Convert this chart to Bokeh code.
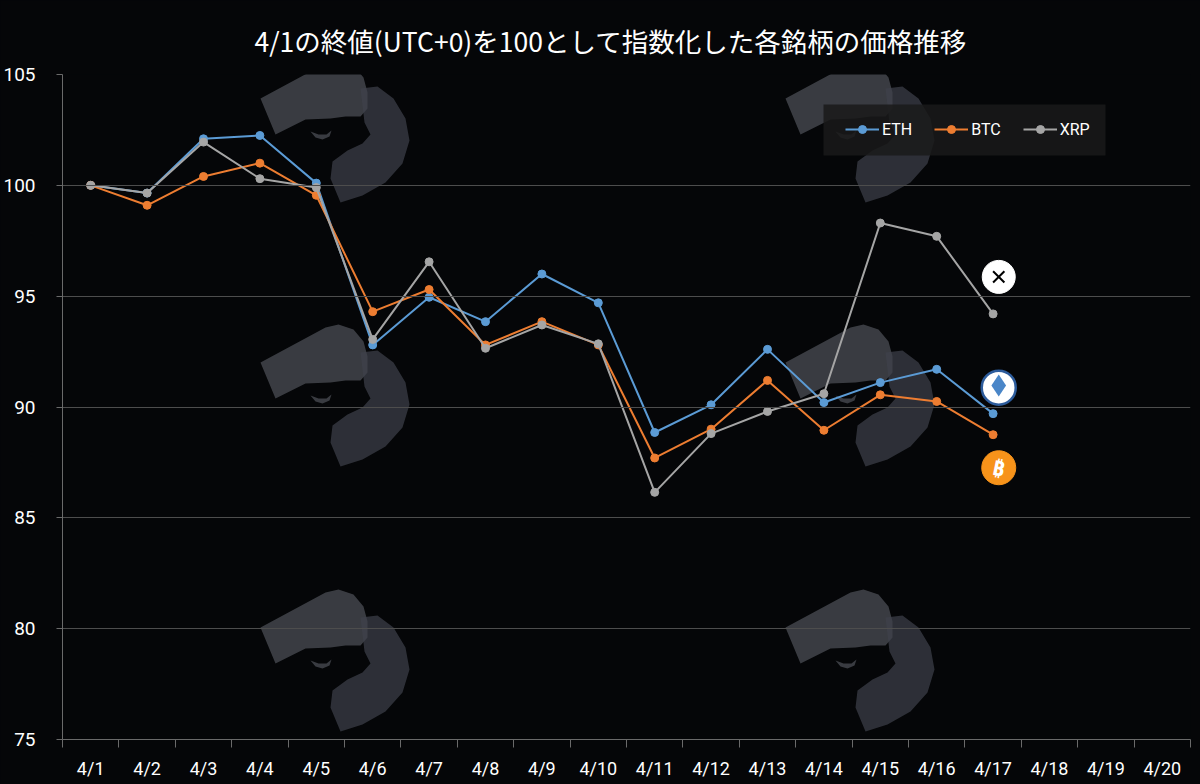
from bokeh.plotting import figure
from bokeh.models import FixedTicker, Legend, LegendItem, Range1d
from bokeh.embed import file_html
from bokeh.resources import INLINE
from bokeh.core.properties import value

# ---------------- data ----------------
dates = ["4/1", "4/2", "4/3", "4/4", "4/5", "4/6", "4/7", "4/8", "4/9", "4/10",
         "4/11", "4/12", "4/13", "4/14", "4/15", "4/16", "4/17", "4/18", "4/19", "4/20"]
eth = [100.0, 99.65, 102.1, 102.25, 100.1, 92.8, 94.95, 93.85, 96.0, 94.7,
       88.85, 90.1, 92.6, 90.2, 91.1, 91.7, 89.7]
btc = [100.0, 99.1, 100.4, 101.0, 99.55, 94.3, 95.3, 92.8, 93.85, 92.8,
       87.7, 89.0, 91.2, 88.95, 90.55, 90.25, 88.75]
xrp = [100.0, 99.65, 101.95, 100.3, 99.9, 93.05, 96.55, 92.65, 93.7, 92.85,
       86.15, 88.8, 89.8, 90.6, 98.3, 97.7, 94.2]
y_ticks = [75, 80, 85, 90, 95, 100, 105]
series_names = ["ETH", "BTC", "XRP"]
title_text = "4/1の終値(UTC+0)を100として指数化した各銘柄の価格推移"

# ---------------- style ----------------
BG = "#050608"
C_ETH, C_BTC, C_XRP = "#5b9bd5", "#ed7d31", "#a5a5a5"
GRID = "#4d4d4d"
AXIS = "#6a6a6a"

n = len(dates)
xs = list(range(n))

p = figure(width=1200, height=784,
           x_range=Range1d(-0.5, n - 0.5), y_range=Range1d(75, 105),
           output_backend="svg", toolbar_location=None,
           background_fill_color=BG, border_fill_color=BG,
           outline_line_color=None,
           min_border_left=62, min_border_right=10,
           min_border_top=74, min_border_bottom=45)

# title
p.title.text = title_text
p.title.align = "left"
p.title.text_color = "#ffffff"
p.title.text_font = "Noto Sans CJK JP"
p.title.text_font_size = "26.5px"
p.title.text_font_style = "normal"
p.title.standoff = 30
p.title.offset = 192

# x axis
p.xaxis.ticker = FixedTicker(ticks=xs, minor_ticks=[i - 0.5 for i in range(n + 1)])
p.xaxis.major_label_overrides = {i: d for i, d in enumerate(dates)}
p.xaxis.major_tick_out = 0
p.xaxis.major_tick_in = 0
p.xaxis.minor_tick_out = 8
p.xaxis.minor_tick_in = 0
p.xaxis.minor_tick_line_color = AXIS
p.xaxis.axis_line_color = AXIS
p.xaxis.major_label_text_color = "#ffffff"
p.xaxis.major_label_text_font = "Roboto"
p.xaxis.major_label_text_font_size = "18px"
p.xaxis.major_label_standoff = 10

# y axis
p.yaxis.ticker = FixedTicker(ticks=y_ticks)
p.yaxis.minor_tick_line_color = None
p.yaxis.major_tick_out = 6
p.yaxis.major_tick_in = 0
p.yaxis.major_tick_line_color = AXIS
p.yaxis.axis_line_color = AXIS
p.yaxis.major_label_text_color = "#ffffff"
p.yaxis.major_label_text_font = "Roboto"
p.yaxis.major_label_text_font_size = "19px"
p.yaxis.major_label_standoff = 21

p.xgrid.grid_line_color = None
p.ygrid.grid_line_color = GRID
p.ygrid.grid_line_width = 1
p.ygrid.level = "glyph"

# ---------------- watermark logos (decoration, frame-pixel coords) ----------------
p.extra_x_ranges["px"] = Range1d(0, 1128)
p.extra_y_ranges["py"] = Range1d(665, 0)
logo_a = [(0, 38), (65, 3), (78, 0), (93, 5), (103, 17), (107, 32),
          (107, 48), (100, 56), (85, 56), (70, 58), (45, 59), (15, 74)]
logo_b = [(100, 28), (117, 26), (133, 38), (145, 58), (149, 80), (142, 103),
          (125, 122), (102, 135), (80, 142), (70, 118), (72, 101), (87, 90),
          (102, 83), (110, 74), (104, 62)]
logo_eye = [(50, 71), (58, 74), (66, 74), (71, 70), (69, 76), (62, 79), (55, 77)]
origins = [(198, -14), (723, -14), (198, 250), (723, 250), (198, 515), (723, 515)]
shapes = {"a": ([], []), "b": ([], []), "e": ([], [])}
for ox, oy in origins:
    for key, tpl in (("a", logo_a), ("b", logo_b), ("e", logo_eye)):
        shapes[key][0].append([ox + a for a, _ in tpl])
        shapes[key][1].append([oy + b for _, b in tpl])
p.patches(*shapes["a"], x_range_name="px", y_range_name="py", fill_color="#50525a",
          fill_alpha=0.7, line_color=None, level="underlay")
p.patches(*shapes["b"], x_range_name="px", y_range_name="py", fill_color="#3e424b",
          fill_alpha=0.7, line_color=None, level="underlay")
p.patches(*shapes["e"], x_range_name="px", y_range_name="py", fill_color="#50525a",
          fill_alpha=0.7, line_color=None, level="underlay")

# legend background box (frame-pixel coords)
p.quad(left=[761], right=[1043], top=[30], bottom=[81], x_range_name="px",
       y_range_name="py", fill_color="#1a1a1a", fill_alpha=0.85, line_color=None,
       level="underlay")

# ---------------- series ----------------
items = []
for name, vals, col in [("ETH", eth, C_ETH), ("BTC", btc, C_BTC), ("XRP", xrp, C_XRP)]:
    x = xs[:len(vals)]
    r1 = p.line(x, vals, line_color=col, line_width=2)
    r2 = p.scatter(x, vals, size=8, fill_color=col, line_color=col)
    items.append(LegendItem(label=name, renderers=[r1, r2]))

legend = Legend(items=items, orientation="horizontal", location=(783, 600),
                background_fill_alpha=0.0, border_line_color=None,
                label_text_color="#ffffff",
                label_text_font="Roboto", label_text_font_size="16px",
                glyph_width=34, glyph_height=20, label_standoff=3,
                spacing=22, padding=0, margin=0)
p.add_layout(legend)

# ---------------- coin icons near last points ----------------
last = len(eth) - 1
ix = last + 0.1
# XRP
p.scatter([ix], [xrp[-1] + 1.67], size=33, fill_color="#ffffff", line_color="#ffffff")
p.scatter([ix], [xrp[-1] + 1.67], marker="x", size=16, line_color="#000000", line_width=2)
# ETH
p.scatter([ix], [eth[-1] + 1.17], size=34, fill_color="#ffffff", line_color="#2d5c9c", line_width=2.5)
p.scatter([ix], [eth[-1] + 1.17 + 0.1], marker="diamond", size=22, fill_color="#4a86c8",
          line_color=None)
# BTC
p.scatter([ix], [btc[-1] - 1.49], size=34, fill_color="#f7931a", line_color="#f7931a")
p.text([ix], [btc[-1] - 1.49], text=["₿"], text_color="#ffffff",
       text_font=value("Noto Sans"), text_font_size="21px", text_font_style="bold",
       text_align="center", text_baseline="middle", angle=-0.2)

html = file_html(p, INLINE)
html = html.replace("<head>", "<head><style>html,body{margin:0;padding:0;background:#050608;overflow:hidden;}</style>", 1)
open("out.html", "w").write(html)
